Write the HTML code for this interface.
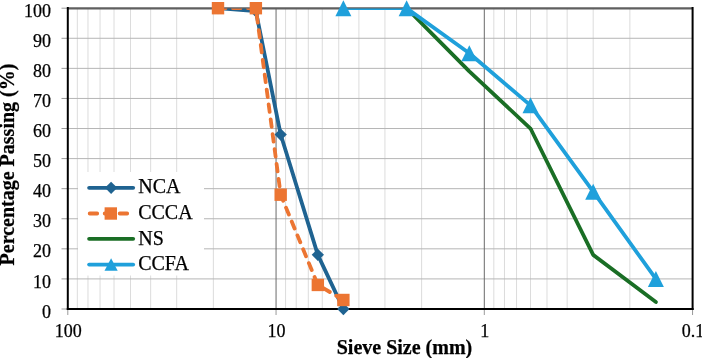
<!DOCTYPE html><html><head><meta charset="utf-8"><style>html,body{margin:0;padding:0;background:#fff}svg{display:block}text{font-family:"Liberation Serif","Times New Roman",serif;stroke:#000;stroke-width:0.25px}</style></head><body>
<svg width="702" height="358" viewBox="0 0 702 358">
<rect width="702" height="358" fill="#fff"/>
<line x1="213.36" y1="8" x2="213.36" y2="309" stroke="#dcdcdc" stroke-width="1"/>
<line x1="176.69" y1="8" x2="176.69" y2="309" stroke="#dcdcdc" stroke-width="1"/>
<line x1="150.67" y1="8" x2="150.67" y2="309" stroke="#dcdcdc" stroke-width="1"/>
<line x1="130.49" y1="8" x2="130.49" y2="309" stroke="#dcdcdc" stroke-width="1"/>
<line x1="114.00" y1="8" x2="114.00" y2="309" stroke="#dcdcdc" stroke-width="1"/>
<line x1="100.06" y1="8" x2="100.06" y2="309" stroke="#dcdcdc" stroke-width="1"/>
<line x1="87.98" y1="8" x2="87.98" y2="309" stroke="#dcdcdc" stroke-width="1"/>
<line x1="77.33" y1="8" x2="77.33" y2="309" stroke="#dcdcdc" stroke-width="1"/>
<line x1="421.61" y1="8" x2="421.61" y2="309" stroke="#dcdcdc" stroke-width="1"/>
<line x1="384.94" y1="8" x2="384.94" y2="309" stroke="#dcdcdc" stroke-width="1"/>
<line x1="358.92" y1="8" x2="358.92" y2="309" stroke="#dcdcdc" stroke-width="1"/>
<line x1="338.74" y1="8" x2="338.74" y2="309" stroke="#dcdcdc" stroke-width="1"/>
<line x1="322.25" y1="8" x2="322.25" y2="309" stroke="#dcdcdc" stroke-width="1"/>
<line x1="308.31" y1="8" x2="308.31" y2="309" stroke="#dcdcdc" stroke-width="1"/>
<line x1="296.23" y1="8" x2="296.23" y2="309" stroke="#dcdcdc" stroke-width="1"/>
<line x1="285.58" y1="8" x2="285.58" y2="309" stroke="#dcdcdc" stroke-width="1"/>
<line x1="629.86" y1="8" x2="629.86" y2="309" stroke="#dcdcdc" stroke-width="1"/>
<line x1="593.19" y1="8" x2="593.19" y2="309" stroke="#dcdcdc" stroke-width="1"/>
<line x1="567.17" y1="8" x2="567.17" y2="309" stroke="#dcdcdc" stroke-width="1"/>
<line x1="546.99" y1="8" x2="546.99" y2="309" stroke="#dcdcdc" stroke-width="1"/>
<line x1="530.50" y1="8" x2="530.50" y2="309" stroke="#dcdcdc" stroke-width="1"/>
<line x1="516.56" y1="8" x2="516.56" y2="309" stroke="#dcdcdc" stroke-width="1"/>
<line x1="504.48" y1="8" x2="504.48" y2="309" stroke="#dcdcdc" stroke-width="1"/>
<line x1="493.83" y1="8" x2="493.83" y2="309" stroke="#dcdcdc" stroke-width="1"/>
<line x1="68" y1="278.92" x2="692" y2="278.92" stroke="#b5b5b5" stroke-width="1"/>
<line x1="68" y1="248.84" x2="692" y2="248.84" stroke="#b5b5b5" stroke-width="1"/>
<line x1="68" y1="218.76" x2="692" y2="218.76" stroke="#b5b5b5" stroke-width="1"/>
<line x1="68" y1="188.68" x2="692" y2="188.68" stroke="#b5b5b5" stroke-width="1"/>
<line x1="68" y1="158.60" x2="692" y2="158.60" stroke="#b5b5b5" stroke-width="1"/>
<line x1="68" y1="128.52" x2="692" y2="128.52" stroke="#b5b5b5" stroke-width="1"/>
<line x1="68" y1="98.44" x2="692" y2="98.44" stroke="#b5b5b5" stroke-width="1"/>
<line x1="68" y1="68.36" x2="692" y2="68.36" stroke="#b5b5b5" stroke-width="1"/>
<line x1="68" y1="38.28" x2="692" y2="38.28" stroke="#b5b5b5" stroke-width="1"/>
<line x1="276.05" y1="8" x2="276.05" y2="309" stroke="#6a6a6a" stroke-width="1"/>
<line x1="484.30" y1="8" x2="484.30" y2="309" stroke="#6a6a6a" stroke-width="1"/>
<rect x="78" y="172" width="126" height="103.5" fill="#fff"/>
<line x1="61.5" y1="309.00" x2="67" y2="309.00" stroke="#9a9a9a" stroke-width="1"/>
<line x1="61.5" y1="278.92" x2="67" y2="278.92" stroke="#9a9a9a" stroke-width="1"/>
<line x1="61.5" y1="248.84" x2="67" y2="248.84" stroke="#9a9a9a" stroke-width="1"/>
<line x1="61.5" y1="218.76" x2="67" y2="218.76" stroke="#9a9a9a" stroke-width="1"/>
<line x1="61.5" y1="188.68" x2="67" y2="188.68" stroke="#9a9a9a" stroke-width="1"/>
<line x1="61.5" y1="158.60" x2="67" y2="158.60" stroke="#9a9a9a" stroke-width="1"/>
<line x1="61.5" y1="128.52" x2="67" y2="128.52" stroke="#9a9a9a" stroke-width="1"/>
<line x1="61.5" y1="98.44" x2="67" y2="98.44" stroke="#9a9a9a" stroke-width="1"/>
<line x1="61.5" y1="68.36" x2="67" y2="68.36" stroke="#9a9a9a" stroke-width="1"/>
<line x1="61.5" y1="38.28" x2="67" y2="38.28" stroke="#9a9a9a" stroke-width="1"/>
<line x1="61.5" y1="8.20" x2="67" y2="8.20" stroke="#9a9a9a" stroke-width="1"/>
<line x1="67.80" y1="309" x2="67.80" y2="315" stroke="#9a9a9a" stroke-width="1"/>
<line x1="276.05" y1="309" x2="276.05" y2="315" stroke="#9a9a9a" stroke-width="1"/>
<line x1="484.30" y1="309" x2="484.30" y2="315" stroke="#9a9a9a" stroke-width="1"/>
<line x1="692.55" y1="309" x2="692.55" y2="315" stroke="#9a9a9a" stroke-width="1"/>
<line x1="67.8" y1="8.3" x2="692.6" y2="8.3" stroke="#5f5f5f" stroke-width="2.2"/>
<line x1="692.6" y1="7" x2="692.6" y2="310" stroke="#000" stroke-width="2"/>
<line x1="67.8" y1="7" x2="67.8" y2="310" stroke="#000" stroke-width="2"/>
<line x1="66.8" y1="309" x2="693.6" y2="309" stroke="#000" stroke-width="2"/>
<defs><clipPath id="pc"><rect x="68.8" y="8.4" width="622.8" height="299.6"/></clipPath></defs>
<polyline clip-path="url(#pc)" points="218.00,8.20 255.87,11.21 280.69,134.54 317.84,254.86 343.38,309.00" fill="none" stroke="#1f6391" stroke-width="3.8" stroke-linejoin="round" stroke-linecap="round"/>
<path d="M218.00,2.05L224.15,8.20L218.00,14.35L211.85,8.20Z" fill="#1f6391"/>
<path d="M255.87,5.06L262.02,11.21L255.87,17.36L249.72,11.21Z" fill="#1f6391"/>
<path d="M280.69,128.39L286.84,134.54L280.69,140.69L274.54,134.54Z" fill="#1f6391"/>
<path d="M317.84,248.71L323.99,254.86L317.84,261.01L311.69,254.86Z" fill="#1f6391"/>
<path d="M343.38,302.85L349.53,309.00L343.38,315.15L337.23,309.00Z" fill="#1f6391"/>
<polyline clip-path="url(#pc)" points="218.00,8.20 255.87,8.20 280.69,194.70 317.84,284.94 343.38,299.98" fill="none" stroke="#ec7532" stroke-width="3.8" stroke-linejoin="round" stroke-linecap="round" stroke-dasharray="7.5 7.5"/>
<rect x="211.80" y="2.00" width="12.4" height="12.4" fill="#ec7532"/>
<rect x="249.67" y="2.00" width="12.4" height="12.4" fill="#ec7532"/>
<rect x="274.49" y="188.50" width="12.4" height="12.4" fill="#ec7532"/>
<rect x="311.64" y="278.74" width="12.4" height="12.4" fill="#ec7532"/>
<rect x="337.18" y="293.78" width="12.4" height="12.4" fill="#ec7532"/>
<polyline clip-path="url(#pc)" points="406.64,8.20 469.33,71.37 530.50,128.52 593.19,254.86 655.88,302.08" fill="none" stroke="#1a6e25" stroke-width="3.8" stroke-linejoin="round" stroke-linecap="round"/>
<polyline clip-path="url(#pc)" points="343.38,8.20 406.64,8.20 469.33,53.32 530.50,105.36 593.19,191.69 655.88,278.92" fill="none" stroke="#1fa0db" stroke-width="3.8" stroke-linejoin="round" stroke-linecap="round"/>
<path d="M343.38,0.20L351.38,16.20L335.38,16.20Z" fill="#1fa0db"/>
<path d="M406.64,0.20L414.64,16.20L398.64,16.20Z" fill="#1fa0db"/>
<path d="M469.33,45.32L477.33,61.32L461.33,61.32Z" fill="#1fa0db"/>
<path d="M530.50,97.36L538.50,113.36L522.50,113.36Z" fill="#1fa0db"/>
<path d="M593.19,183.69L601.19,199.69L585.19,199.69Z" fill="#1fa0db"/>
<path d="M655.88,270.92L663.88,286.92L647.88,286.92Z" fill="#1fa0db"/>
<line x1="89.1" y1="187.8" x2="133.2" y2="187.8" stroke="#1f6391" stroke-width="3.8" stroke-linecap="round"/>
<path d="M111.10,181.65L117.25,187.80L111.10,193.95L104.95,187.80Z" fill="#1f6391"/>
<line x1="89.7" y1="213.5" x2="133.2" y2="213.5" stroke="#ec7532" stroke-width="3.8" stroke-linecap="round" stroke-dasharray="7.5 7.5"/>
<rect x="104.60" y="207.30" width="12.4" height="12.4" fill="#ec7532"/>
<line x1="89.1" y1="238.8" x2="133.2" y2="238.8" stroke="#1a6e25" stroke-width="3.8" stroke-linecap="round"/>
<line x1="89.1" y1="264.6" x2="133.2" y2="264.6" stroke="#1fa0db" stroke-width="3.8" stroke-linecap="round"/>
<path d="M111.10,258.20L117.70,270.80L104.50,270.80Z" fill="#1fa0db"/>
<text x="138.2" y="193" font-size="20" fill="#000">NCA</text>
<text x="138.2" y="219" font-size="20" fill="#000">CCCA</text>
<text x="138.2" y="244.5" font-size="20" fill="#000">NS</text>
<text x="138.2" y="270" font-size="20" fill="#000">CCFA</text>
<text x="51" y="317.60" font-size="18" text-anchor="end" fill="#000">0</text>
<text x="51" y="287.52" font-size="18" text-anchor="end" fill="#000">10</text>
<text x="51" y="257.44" font-size="18" text-anchor="end" fill="#000">20</text>
<text x="51" y="227.36" font-size="18" text-anchor="end" fill="#000">30</text>
<text x="51" y="197.28" font-size="18" text-anchor="end" fill="#000">40</text>
<text x="51" y="167.20" font-size="18" text-anchor="end" fill="#000">50</text>
<text x="51" y="137.12" font-size="18" text-anchor="end" fill="#000">60</text>
<text x="51" y="107.04" font-size="18" text-anchor="end" fill="#000">70</text>
<text x="51" y="76.96" font-size="18" text-anchor="end" fill="#000">80</text>
<text x="51" y="46.88" font-size="18" text-anchor="end" fill="#000">90</text>
<text x="51" y="16.80" font-size="18" text-anchor="end" fill="#000">100</text>
<text x="68.30" y="337.2" font-size="18" text-anchor="middle" fill="#000">100</text>
<text x="276.55" y="337.2" font-size="18" text-anchor="middle" fill="#000">10</text>
<text x="484.80" y="337.2" font-size="18" text-anchor="middle" fill="#000">1</text>
<text x="693.05" y="337.2" font-size="18" text-anchor="middle" fill="#000">0.1</text>
<text x="404.5" y="353.8" font-size="20" font-weight="bold" text-anchor="middle" fill="#000">Sieve Size (mm)</text>
<text transform="translate(13.6,164.5) rotate(-90)" x="0" y="0" font-size="20" font-weight="bold" text-anchor="middle" fill="#000">Percentage Passing (%)</text>
</svg></body></html>
